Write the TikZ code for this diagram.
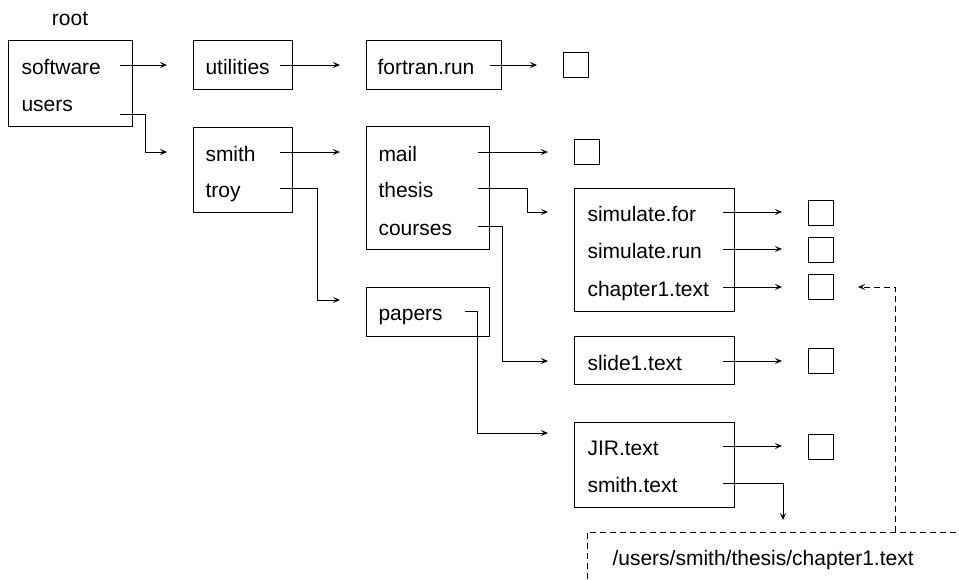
\documentclass[tikz,border=0pt]{standalone}
\usepackage{fontspec}
\setmainfont{Liberation Sans}
\usetikzlibrary{arrows.meta,calc}

\begin{document}
\begin{tikzpicture}[
    x=1pt, y=-1pt,
    line width=1pt,
    every node/.style={font=\fontsize{21}{25}\selectfont},
    dirbox/.style={draw, anchor=north west, inner sep=0pt},
    leaf/.style={draw, anchor=north west, inner sep=0pt,
                 minimum width=25pt, minimum height=25pt},
    entry/.style={anchor=west, inner sep=0pt, text height=18pt, text depth=0pt},
    arrow/.style={-{Stealth[open, length=7pt, width=6pt, inset=3pt]}},
    link/.style={dash pattern=on 6pt off 4pt}
]
\useasboundingbox (0,0) rectangle (959,579);

\node[anchor=base] (roottitle) at (70,25) {root};

% directories
\node[dirbox, minimum width=124pt, minimum height=86pt] (rootbox) at (8,40) {};
\node[dirbox, minimum width=99pt, minimum height=49pt] (utilbox) at (193,40) {};
\node[dirbox, minimum width=135pt, minimum height=49pt] (fortbox) at (366,40) {};
\node[dirbox, minimum width=99pt, minimum height=85pt] (smithbox) at (193,127) {};
\node[dirbox, minimum width=123pt, minimum height=123pt] (mailbox) at (366,126) {};
\node[dirbox, minimum width=123pt, minimum height=49pt] (papersbox) at (366,287) {};
\node[dirbox, minimum width=160pt, minimum height=123pt] (simbox) at (574,188) {};
\node[dirbox, minimum width=160pt, minimum height=48pt] (slidebox) at (574,336) {};
\node[dirbox, minimum width=160pt, minimum height=85pt] (jirbox) at (574,422) {};

% files
\node[leaf] (fortleaf) at (563,52) {};
\node[leaf] (mailleaf) at (574,139) {};
\node[leaf] (simforleaf) at (808,200) {};
\node[leaf] (simrunleaf) at (808,237) {};
\node[leaf] (chapleaf) at (808,274) {};
\node[leaf] (slideleaf) at (808,348) {};
\node[leaf] (jirleaf) at (808,434) {};

% entries
\node[entry] (software) at (21,65) {software};
\node[entry] (users) at (21,102) {users};
\node[entry] (utilities) at (205,65) {utilities};
\node[entry] (fortran) at (377,65) {fortran.run};
\node[entry] (smith) at (205,152) {smith};
\node[entry] (troy) at (205,188) {troy};
\node[entry] (mail) at (378,152) {mail};
\node[entry] (thesis) at (378,188) {thesis};
\node[entry] (courses) at (378,226) {courses};
\node[entry] (papers) at (378,311) {papers};
\node[entry] (simfor) at (587,212) {simulate.for};
\node[entry] (simrun) at (587,249) {simulate.run};
\node[entry] (chapter) at (587,287) {chapter1.text};
\node[entry] (slide) at (587,361) {slide1.text};
\node[entry] (jir) at (587,446) {JIR.text};
\node[entry] (smithtext) at (587,483) {smith.text};

\node[anchor=west, inner sep=0pt] (pathname) at (612,560) {/users/smith/thesis/chapter1.text};
\coordinate (pathtop) at (895,532);
\coordinate (pathptr) at (783,520);

% links
\draw[arrow] ($(rootbox.east |- software)+(-13,0)$) -- ($(utilbox.west |- software)+(-26,0)$);
\draw[arrow] ($(rootbox.east |- users)+(-13,12)$) -- ++(25,0) |- ($(smithbox.west |- smith)+(-26,0)$);
\draw[arrow] ($(utilbox.east |- utilities)+(-13,0)$) -- ($(fortbox.west |- utilities)+(-26,0)$);
\draw[arrow] ($(fortbox.east |- fortran)+(-12,0)$) -- ($(fortleaf.west |- fortran)+(-26,0)$);
\draw[arrow] ($(smithbox.east |- smith)+(-13,0)$) -- ($(mailbox.west |- smith)+(-26,0)$);
\draw[arrow] ($(smithbox.east |- troy)+(-13,0)$) -- ++(37,0) |- ($(papersbox.west)+(-26,-12)$);
\draw[arrow] ($(mailbox.east |- mail)+(-12,0)$) -- ($(mailleaf.west |- mail)+(-26,0)$);
\draw[arrow] ($(mailbox.east |- thesis)+(-12,0)$) -- ++(49,0) |- ($(simbox.west |- simfor)+(-26,0)$);
\draw[arrow] ($(mailbox.east |- courses)+(-12,0)$) -- ++(24,0) |- ($(slidebox.west |- slide)+(-26,0)$);
\draw[arrow] ($(papersbox.east |- papers)+(-25,0)$) -- ++(12,0) |- ($(jirbox.north west)+(-26,11)$);
\draw[arrow] ($(simbox.east |- simfor)+(-12,0)$) -- ($(simforleaf.west |- simfor)+(-26,0)$);
\draw[arrow] ($(simbox.east |- simrun)+(-12,0)$) -- ($(simrunleaf.west |- simrun)+(-26,0)$);
\draw[arrow] ($(simbox.east |- chapter)+(-12,0)$) -- ($(chapleaf.west |- chapter)+(-26,0)$);
\draw[arrow] ($(slidebox.east |- slide)+(-12,0)$) -- ($(slideleaf.west |- slide)+(-26,0)$);
\draw[arrow] ($(jirbox.east |- jir)+(-12,0)$) -- ($(jirleaf.west |- jir)+(-26,0)$);
\draw[arrow] ($(jirbox.east |- smithtext)+(-12,0)$) -| (pathptr);

% path name
\draw[link] (587,579) -- (587,532) -- (959,532);
\draw[arrow, link] (pathtop) |- ($(chapleaf.east)+(24,0)$);
\end{tikzpicture}
\end{document}
